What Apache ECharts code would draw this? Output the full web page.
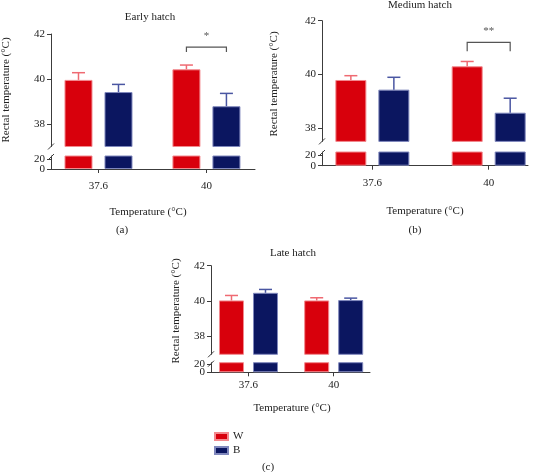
<!DOCTYPE html>
<html><head><meta charset="utf-8">
<script src="https://cdn.jsdelivr.net/npm/echarts@6/dist/echarts.min.js"></script>
<style>html,body{margin:0;padding:0;background:#fff}#c{width:540px;height:472px}</style>
</head><body><div id="c"></div>
<script>
// ---- data ----
const categories = ['37.6', '40'];
const groups = ['W', 'B'];
const panelTitles = ['Early hatch', 'Medium hatch', 'Late hatch'];
const panelTags = ['(a)', '(b)', '(c)'];
const yAxisTitle = 'Rectal temperature (\u00B0C)';
const xAxisTitle = 'Temperature (\u00B0C)';

const earlyW = [39.96, 40.43];
const earlyWErr = [0.32, 0.19];
const earlyB = [39.42, 38.79];
const earlyBErr = [0.34, 0.57];

const mediumW = [39.79, 40.30];
const mediumWErr = [0.16, 0.18];
const mediumB = [39.43, 38.57];
const mediumBErr = [0.46, 0.54];

const lateW = [40.04, 40.04];
const lateWErr = [0.28, 0.15];
const lateB = [40.47, 40.06];
const lateBErr = [0.19, 0.11];

const upperTicks = [38, 40, 42];
const lowerTicks = [0, 20];

// significance: [category index, bracket level, drop, label]
const earlySig = [[1, 41.42, 0.22, '*']];
const mediumSig = [[1, 41.19, 0.33, '**']];
const lateSig = [];

// ---- layout / style ----
const FONT = '"Liberation Serif", "DejaVu Serif", serif';
const RED = '#d8000c', NAVY = '#0b1660';
const RED_EDGE = '#f2898e', NAVY_EDGE = '#8088bd';
const RED_ERR = '#ef6a72', NAVY_ERR = '#4a56a2';
const AX = '#3c3c3c';

const panels = [
  {w: earlyW, we: earlyWErr, b: earlyB, be: earlyBErr, sig: earlySig,
   axisX: 51, right: 255, upTop: 34, upBot: 146.5, upMin: 37, loTop: 156, loBot: 169, loMax: 27,
   xMin: -0.44, xMax: 1.45, bw: 28, gap: 12, xLabMargin: 12,
   title: [150, 17], yName: [6, 90], xName: [148, 212], tag: [122, 230]},
  {w: mediumW, we: mediumWErr, b: mediumB, be: mediumBErr, sig: mediumSig,
   axisX: 322, right: 528, upTop: 20.7, upBot: 141.4, upMin: 37.5, loTop: 152, loBot: 165.7, loMax: 27,
   xMin: -0.433, xMax: 1.338, bw: 31, gap: 12, xLabMargin: 12,
   title: [420, 5], yName: [274, 84], xName: [425, 211], tag: [415, 230]},
  {w: lateW, we: lateWErr, b: lateB, be: lateBErr, sig: lateSig,
   axisX: 211, right: 370, upTop: 265.7, upBot: 354.3, upMin: 37, loTop: 362.7, loBot: 372.3, loMax: 23,
   xMin: -0.44, xMax: 1.426, bw: 25, gap: 9, xLabMargin: 7,
   title: [293, 253], yName: [176, 311], xName: [292, 408], tag: [268, 467]}
];

const grid = [], xAxis = [], yAxis = [], series = [], graphic = [];

function txt(x, y, s, rot) {
  return {type: 'text', x: x, y: y, rotation: rot || 0,
    style: {text: s, font: '11px ' + FONT, fill: '#222', align: 'center', verticalAlign: 'middle'}};
}
function slash(x, y) {
  return {type: 'line', shape: {x1: x - 3, y1: y + 3, x2: x + 3, y2: y - 3},
    style: {stroke: AX, lineWidth: 1}};
}
const labelStyle = {fontFamily: FONT, fontSize: 11, color: '#222', margin: 6, hideOverlap: false,
  showMinLabel: true, showMaxLabel: true};

panels.forEach((p, k) => {
  const up = k * 2, lo = k * 2 + 1;           // grid / xAxis indices
  const yUp = k * 3, yLo = k * 3 + 1, yLo2 = k * 3 + 2;  // yAxis indices
  const width = p.right - p.axisX;
  grid.push({left: p.axisX, top: p.upTop, width: width, height: p.upBot - p.upTop});
  grid.push({left: p.axisX, top: p.loTop, width: width, height: p.loBot - p.loTop});

  xAxis.push({gridIndex: up, type: 'value', min: p.xMin, max: p.xMax, show: false});
  xAxis.push({gridIndex: lo, type: 'value', min: p.xMin, max: p.xMax, position: 'bottom',
    axisLine: {show: true, onZero: false, lineStyle: {color: AX, width: 1}},
    axisTick: {show: true, customValues: categories.map((c, i) => i), length: 4, lineStyle: {color: AX}},
    axisLabel: {customValues: categories.map((c, i) => i), formatter: v => categories[Math.round(v)],
      fontFamily: FONT, fontSize: 11, color: '#222', margin: p.xLabMargin},
    splitLine: {show: false}});

  yAxis.push({gridIndex: up, type: 'value', min: p.upMin, max: 42, position: 'left',
    axisLine: {show: true, onZero: false, lineStyle: {color: AX, width: 1}},
    axisTick: {show: true, customValues: upperTicks, length: 4, lineStyle: {color: AX}},
    axisLabel: Object.assign({customValues: upperTicks}, labelStyle),
    splitLine: {show: false}});
  // lower segment: axis line + ticks + first label
  yAxis.push({gridIndex: lo, type: 'value', min: 0, max: p.loMax, position: 'left',
    axisLine: {show: true, onZero: false, lineStyle: {color: AX, width: 1}},
    axisTick: {show: true, customValues: lowerTicks, length: 4, lineStyle: {color: AX}},
    axisLabel: Object.assign({customValues: lowerTicks.slice(0, 1)}, labelStyle),
    splitLine: {show: false}});
  // lower segment: remaining label(s)
  yAxis.push({gridIndex: lo, type: 'value', min: 0, max: p.loMax, position: 'left', offset: 0,
    axisLine: {show: false}, axisTick: {show: false},
    axisLabel: Object.assign({customValues: lowerTicks.slice(1)}, labelStyle),
    splitLine: {show: false}});

  const gapPct = (p.gap / p.bw * 100).toFixed(1) + '%';
  const sets = [
    {name: groups[0], vals: p.w, errs: p.we, color: RED, edge: RED_EDGE, err: RED_ERR, sign: -1},
    {name: groups[1], vals: p.b, errs: p.be, color: NAVY, edge: NAVY_EDGE, err: NAVY_ERR, sign: 1}
  ];
  [[up, yUp], [lo, yLo]].forEach(([xi, yi]) => {
    sets.forEach(s => {
      series.push({type: 'bar', name: s.name, xAxisIndex: xi, yAxisIndex: yi,
        data: s.vals.map((v, i) => [i, v]), barWidth: p.bw, barGap: gapPct, clip: true,
        itemStyle: {color: s.color, borderColor: s.edge, borderWidth: 1}, z: 2});
    });
  });
  sets.forEach(s => {
    const off = s.sign * (p.bw + p.gap) / 2;
    series.push({type: 'custom', name: s.name + ' err', xAxisIndex: up, yAxisIndex: yUp, z: 3,
      data: s.vals.map((v, i) => [i, v, s.errs[i]]),
      renderItem: (params, api) => {
        const a = api.coord([api.value(0), api.value(1)]);
        const b = api.coord([api.value(0), api.value(1) + api.value(2)]);
        const cx = a[0] + off;
        return {type: 'group', children: [
          {type: 'line', shape: {x1: cx, y1: a[1], x2: cx, y2: b[1]}, style: {stroke: s.err, lineWidth: 1.5}},
          {type: 'line', shape: {x1: cx - 6.5, y1: b[1], x2: cx + 6.5, y2: b[1]}, style: {stroke: s.err, lineWidth: 1.5}}
        ]};
      }});
  });
  if (p.sig.length) {
    const half = (p.bw + p.gap) / 2;
    series.push({type: 'custom', name: 'sig', xAxisIndex: up, yAxisIndex: yUp, z: 4,
      data: p.sig.map(s => [s[0], s[1], s[2]]),
      renderItem: (params, api) => {
        const c = api.coord([api.value(0), api.value(1)]);
        const d = api.coord([api.value(0), api.value(1) - api.value(2)]);
        const label = p.sig[params.dataIndex][3];
        return {type: 'group', children: [
          {type: 'polyline', shape: {points: [[c[0] - half, d[1]], [c[0] - half, c[1]], [c[0] + half, c[1]], [c[0] + half, d[1]]]},
            style: {stroke: '#555', lineWidth: 1.2, fill: null}},
          {type: 'text', x: c[0], y: c[1] - 11,
            style: {text: label, font: '11px ' + FONT, fill: '#555', align: 'center', verticalAlign: 'middle'}}
        ]};
      }});
  }

  graphic.push(txt(p.title[0], p.title[1], panelTitles[k]));
  graphic.push(txt(p.yName[0], p.yName[1], yAxisTitle, Math.PI / 2));
  graphic.push(txt(p.xName[0], p.xName[1], xAxisTitle));
  graphic.push(txt(p.tag[0], p.tag[1], panelTags[k]));
  graphic.push(slash(p.axisX, p.upBot));
  graphic.push(slash(p.axisX, p.loTop + 1));
});

const chart = echarts.init(document.getElementById('c'), null, {renderer: 'canvas'});
chart.setOption({
  animation: false,
  backgroundColor: '#fff',
  grid: grid, xAxis: xAxis, yAxis: yAxis, series: series,
  legend: {data: groups, orient: 'vertical', left: 209, top: 426, itemWidth: 13, itemHeight: 7, itemGap: 3,
    icon: 'rect', textStyle: {fontFamily: FONT, fontSize: 11, color: '#222'}, selectedMode: false},
  graphic: graphic
});
</script></body></html>
